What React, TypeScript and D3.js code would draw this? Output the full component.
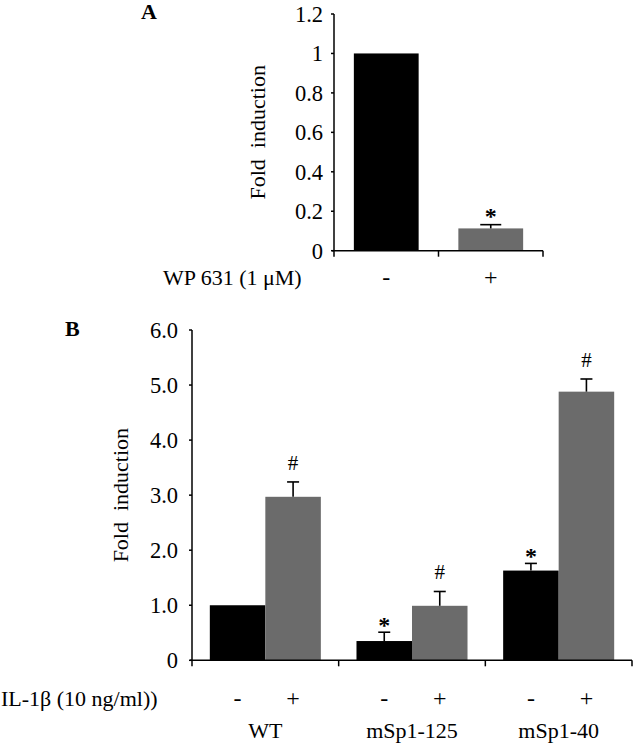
import React from "react";
import * as d3 from "d3";

// Panel A data
const aCategories = ["-", "+"];
const aValues = [1.0, 0.113];
const aErrors = [0, 0.019];
const aMarks = ["", "*"];
const aTicks = [0, 0.2, 0.4, 0.6, 0.8, 1, 1.2];
const aTickLabels = ["0", "0.2", "0.4", "0.6", "0.8", "1", "1.2"];

// Panel B data
const bGroups = ["WT", "mSp1-125", "mSp1-40"];
const bTreat = ["-", "+"];
const bMinus = [1.0, 0.35, 1.63];
const bPlus = [2.97, 0.99, 4.88];
const bMinusErr = [0, 0.16, 0.13];
const bPlusErr = [0.27, 0.26, 0.23];
const bMinusMarks = ["", "*", "*"];
const bPlusMarks = ["#", "#", "#"];
const bTicks = [0, 1, 2, 3, 4, 5, 6];
const bTickLabels = ["0", "1.0", "2.0", "3.0", "4.0", "5.0", "6.0"];

const BLACK = "#000000";
const GRAY = "#6b6b6b";
const FONT = "'Liberation Serif', 'Times New Roman', serif";
const FS = 22;
const TICK_FS = 22.5;

function ErrorBar({ x, y0, y1, cap }: { x: number; y0: number; y1: number; cap: number }) {
  return (
    <g stroke="#000" strokeWidth={1.6}>
      <line x1={x} x2={x} y1={y0} y2={y1} />
      <line x1={x - cap / 2} x2={x + cap / 2} y1={y1} y2={y1} />
    </g>
  );
}

function Mark({ x, y, t }: { x: number; y: number; t: string }) {
  if (!t) return null;
  const isStar = t === "*";
  return (
    <text
      x={x}
      y={isStar ? y + 9 : y - 4}
      textAnchor="middle"
      fontFamily={FONT}
      fontSize={isStar ? 24 : 21}
      fontWeight={isStar ? "bold" : "normal"}
    >
      {t}
    </text>
  );
}

export default function App() {
  // ---------- Panel A ----------
  const aLeft = 334;
  const aRight = 543;
  const aY = d3.scaleLinear().domain([0, 1.2]).range([250.7, 14]);
  const aX = d3.scaleBand<string>().domain(aCategories).range([aLeft, aRight]).paddingInner(0.38).paddingOuter(0.19);
  const aStep = aX.step();

  // ---------- Panel B ----------
  const bLeft = 192;
  const bRight = 632;
  const bY = d3.scaleLinear().domain([0, 6]).range([660.3, 330]);
  const bX = d3.scaleBand<string>().domain(bGroups).range([bLeft, bRight]).paddingInner(0.243).paddingOuter(0.1215);
  const bInner = d3.scaleBand<string>().domain(bTreat).range([0, bX.bandwidth()]).padding(0);
  const bStep = bX.step();

  const bSeries = [
    { key: "-", vals: bMinus, errs: bMinusErr, marks: bMinusMarks, color: BLACK },
    { key: "+", vals: bPlus, errs: bPlusErr, marks: bPlusMarks, color: GRAY },
  ];

  return (
    <svg
      width={633}
      height={750}
      style={{ position: "absolute", left: 0, top: 0, background: "#fff" }}
      fontFamily={FONT}
    >
      <rect width={633} height={750} fill="#fff" />
      {/* ===== Panel A ===== */}
      <text x={141} y={19} fontSize={22} fontWeight="bold">A</text>
      <text
        transform={`translate(265, ${(aY(0) + aY(1.2)) / 2}) rotate(-90)`}
        textAnchor="middle"
        fontSize={FS}
        style={{ whiteSpace: "pre" }}
      >
        {"Fold  induction"}
      </text>
      {aCategories.map((c, i) => (
        <rect key={c} x={aX(c)} y={aY(aValues[i])} width={aX.bandwidth()} height={aY(0) - aY(aValues[i])} fill={i === 0 ? BLACK : GRAY} />
      ))}
      {aCategories.map((c, i) => {
        const cx = (aX(c) as number) + aX.bandwidth() / 2;
        const top = aY(aValues[i] + aErrors[i]);
        return (
          <g key={c}>
            {aErrors[i] > 0 && <ErrorBar x={cx} y0={aY(aValues[i])} y1={top} cap={21} />}
            <Mark x={cx} y={top - 10} t={aMarks[i]} />
          </g>
        );
      })}
      {/* axes A */}
      <line x1={aLeft} x2={aLeft} y1={aY(1.2)} y2={aY(0)} stroke="#000" strokeWidth={1.5} />
      <line x1={aLeft - 2} x2={aRight} y1={aY(0)} y2={aY(0)} stroke="#000" strokeWidth={1.5} />
      {aTicks.map((t, i) => (
        <g key={t}>
          <line x1={aLeft - 3} x2={aLeft} y1={aY(t)} y2={aY(t)} stroke="#000" strokeWidth={1.5} />
          <text x={aLeft - 11} y={aY(t)} dy="0.35em" textAnchor="end" fontSize={TICK_FS}>{aTickLabels[i]}</text>
        </g>
      ))}
      {d3.range(aCategories.length + 1).map((i) => (
        <line key={i} x1={aLeft + i * aStep} x2={aLeft + i * aStep} y1={aY(0)} y2={aY(0) + 6} stroke="#000" strokeWidth={1.5} />
      ))}
      <text x={163} y={285} fontSize={FS}>WP 631 (1 μM)</text>
      {aCategories.map((c) => (
        <text key={c} x={(aX(c) as number) + aX.bandwidth() / 2} y={285} textAnchor="middle" fontSize={24}>{c}</text>
      ))}

      {/* ===== Panel B ===== */}
      <text x={65} y={336} fontSize={22} fontWeight="bold">B</text>
      <text
        transform={`translate(128, ${(bY(0) + bY(6)) / 2}) rotate(-90)`}
        textAnchor="middle"
        fontSize={FS}
        style={{ whiteSpace: "pre" }}
      >
        {"Fold  induction"}
      </text>
      {bSeries.map((s) =>
        bGroups.map((g, i) => {
          const x0 = (bX(g) as number) + (bInner(s.key) as number);
          return (
            <rect key={s.key + g} x={x0} y={bY(s.vals[i])} width={bInner.bandwidth()} height={bY(0) - bY(s.vals[i])} fill={s.color} />
          );
        })
      )}
      {bSeries.map((s) =>
        bGroups.map((g, i) => {
          const cx = (bX(g) as number) + (bInner(s.key) as number) + bInner.bandwidth() / 2;
          const top = bY(s.vals[i] + s.errs[i]);
          return (
            <g key={"e" + s.key + g}>
              {s.errs[i] > 0 && <ErrorBar x={cx} y0={bY(s.vals[i])} y1={top} cap={12} />}
              <Mark x={cx} y={top - 8} t={s.marks[i]} />
            </g>
          );
        })
      )}
      {/* axes B */}
      <line x1={bLeft} x2={bLeft} y1={bY(6)} y2={bY(0)} stroke="#000" strokeWidth={1.5} />
      <line x1={bLeft - 2} x2={bRight} y1={bY(0)} y2={bY(0)} stroke="#000" strokeWidth={1.5} />
      {bTicks.map((t, i) => (
        <g key={t}>
          <line x1={bLeft - 3} x2={bLeft} y1={bY(t)} y2={bY(t)} stroke="#000" strokeWidth={1.5} />
          <text x={bLeft - 14} y={bY(t)} dy="0.35em" textAnchor="end" fontSize={TICK_FS}>{bTickLabels[i]}</text>
        </g>
      ))}
      {d3.range(bGroups.length + 1).map((i) => (
        <line key={i} x1={bLeft + i * bStep} x2={bLeft + i * bStep} y1={bY(0)} y2={bY(0) + 6} stroke="#000" strokeWidth={1.5} />
      ))}
      <text x={1} y={706} fontSize={FS}>IL-1β (10 ng/ml))</text>
      {bGroups.map((g) =>
        bTreat.map((t) => (
          <text key={g + t} x={(bX(g) as number) + (bInner(t) as number) + bInner.bandwidth() / 2} y={706} textAnchor="middle" fontSize={24}>{t}</text>
        ))
      )}
      {bGroups.map((g) => (
        <text key={g} x={(bX(g) as number) + bX.bandwidth() / 2} y={738} textAnchor="middle" fontSize={FS}>{g}</text>
      ))}
    </svg>
  );
}
